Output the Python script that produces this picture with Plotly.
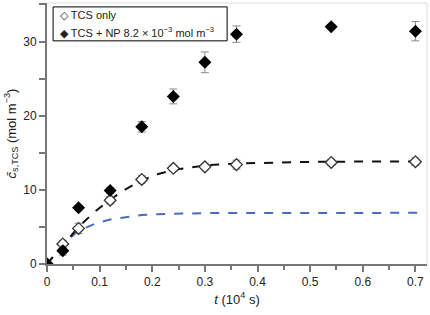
import plotly.graph_objects as go

t_pts = [0, 0.03, 0.06, 0.12, 0.18, 0.24, 0.30, 0.36, 0.54, 0.70]
tcs_only = [0, 2.7, 4.8, 8.6, 11.4, 12.9, 13.1, 13.4, 13.7, 13.8]
tcs_only_err = [0.2, 0.5, 0.7, 0.5, 0.5, 0.4, 0.4, 0.6, 0.4, 0.5]
tcs_np = [0, 1.8, 7.6, 9.9, 18.5, 22.6, 27.2, 31.0, 32.0, 31.4]
tcs_np_err = [0.2, 0.6, 0.3, 0.4, 0.7, 1.0, 1.4, 1.1, 0.3, 1.3]

fit_t = [0, 0.03, 0.06, 0.09, 0.12, 0.15, 0.18, 0.21, 0.24, 0.27, 0.30, 0.36, 0.42, 0.48, 0.54, 0.62, 0.72]
fit_black = [0, 2.5, 5.0, 7.0, 8.7, 10.1, 11.3, 12.1, 12.7, 13.0, 13.3, 13.55, 13.7, 13.75, 13.8, 13.82, 13.85]
fit_blue = [0, 2.6, 4.5, 5.4, 6.0, 6.35, 6.6, 6.72, 6.8, 6.84, 6.86, 6.88, 6.9, 6.9, 6.9, 6.9, 6.9]

x_ticks = [0, 0.1, 0.2, 0.3, 0.4, 0.5, 0.6, 0.7]
y_ticks = [0, 10, 20, 30]
legend_labels = ["TCS only", "TCS + NP 8.2 × 10<sup>−3</sup> mol m<sup>−3</sup>"]

fig = go.Figure()
fig.add_trace(go.Scatter(x=fit_t, y=fit_blue, mode="lines",
                         line=dict(color="#4a6cc0", width=2, dash="dash"),
                         showlegend=False, hoverinfo="skip"))
fig.add_trace(go.Scatter(x=fit_t, y=fit_black, mode="lines",
                         line=dict(color="#111111", width=2, dash="dash"),
                         showlegend=False, hoverinfo="skip"))
fig.add_trace(go.Scatter(x=t_pts, y=tcs_only, mode="markers", name=legend_labels[0],
                         showlegend=False,
                         error_y=dict(type="data", array=tcs_only_err, color="#888888",
                                      thickness=1, width=4),
                         marker=dict(symbol="diamond", size=9, color="white",
                                     line=dict(color="#333333", width=1.3))))
fig.add_trace(go.Scatter(x=t_pts, y=tcs_np, mode="markers", name=legend_labels[1],
                         showlegend=False,
                         error_y=dict(type="data", array=tcs_np_err, color="#888888",
                                      thickness=1, width=4),
                         marker=dict(symbol="diamond", size=10, color="black",
                                     line=dict(color="black", width=0))))

fig.update_layout(
    width=430, height=315,
    margin=dict(l=47, r=3, t=3, b=51),
    paper_bgcolor="white", plot_bgcolor="white",
    font=dict(family="Liberation Sans, Arial, sans-serif", size=12, color="#222222"),
    showlegend=False,
    xaxis=dict(range=[0, 0.722], tickvals=x_ticks, ticktext=[str(v) for v in x_ticks],
               automargin=False,
               showgrid=False, zeroline=False, showline=True, linecolor="#777777",
               linewidth=2, ticks="outside", ticklen=6, tickcolor="#777777", tickwidth=2,
               minor=dict(dtick=0.05, tick0=0, ticks="outside", ticklen=4,
                          tickcolor="#777777", tickwidth=2),
               title=dict(text="<i>t</i> (10<sup>4</sup> s)", standoff=6,
                          font=dict(size=13)),
               tickfont=dict(size=12)),
    yaxis=dict(range=[0, 35.2], tickvals=y_ticks, ticktext=[str(v) for v in y_ticks],
               automargin=False,
               showgrid=False, zeroline=False, showline=True, linecolor="#777777",
               linewidth=2, ticks="outside", ticklen=6, tickcolor="#777777", tickwidth=2,
               minor=dict(dtick=5, tick0=0, ticks="outside", ticklen=6,
                          tickcolor="#777777", tickwidth=2),
               title=dict(text="<i>c\u0304</i><sub>s,TCS</sub> (mol m<sup>−3</sup>)",
                          standoff=4, font=dict(size=13)),
               tickfont=dict(size=12)),
)
# light frame on top and right
fig.add_shape(type="line", xref="paper", yref="paper", x0=0, x1=1, y0=1, y1=1,
              line=dict(color="#dddddd", width=1))
fig.add_shape(type="line", xref="paper", yref="paper", x0=1, x1=1, y0=0, y1=1,
              line=dict(color="#dddddd", width=1))

# manual legend box
fig.add_shape(type="rect", xref="paper", yref="paper", x0=0.016, x1=0.474,
              y0=0.855, y1=0.985, line=dict(color="black", width=1),
              fillcolor="white", layer="above")
fig.add_annotation(xref="paper", yref="paper", x=0.028, y=0.955, xanchor="left",
                   yanchor="middle", showarrow=False, text="◇ " + legend_labels[0],
                   font=dict(size=11, color="#222222"))
fig.add_annotation(xref="paper", yref="paper", x=0.028, y=0.89, xanchor="left",
                   yanchor="middle", showarrow=False, text="◆ " + legend_labels[1],
                   font=dict(size=11, color="#222222"))

fig.write_html("out.html", config={"displayModeBar": False},
               post_script="document.body.style.margin='0';")
